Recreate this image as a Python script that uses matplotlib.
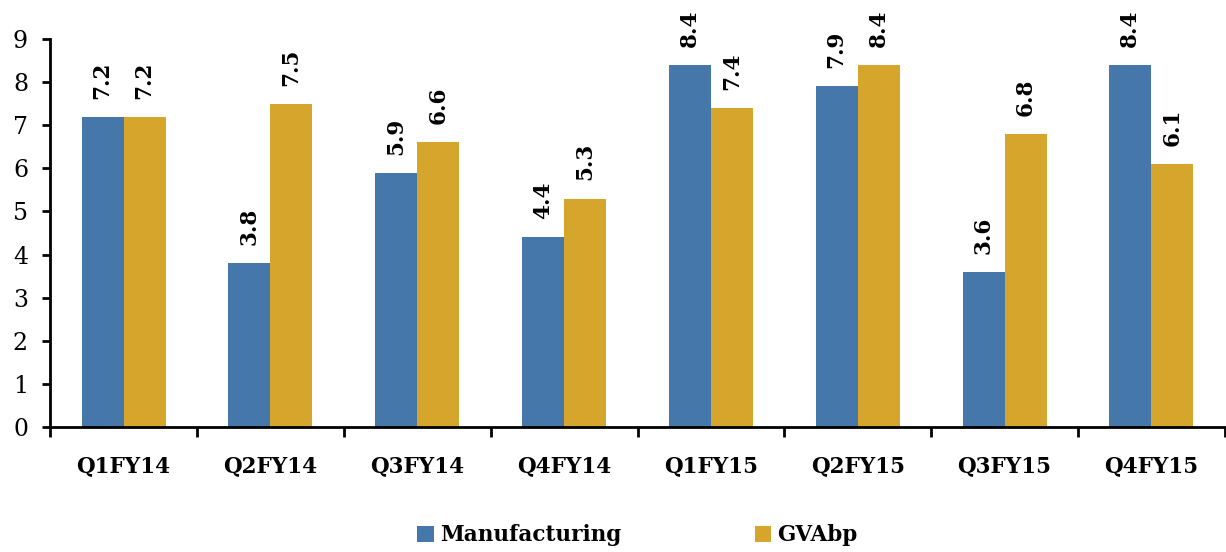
import numpy as np
import matplotlib.pyplot as plt

# Data
quarters = ['Q1FY14', 'Q2FY14', 'Q3FY14', 'Q4FY14',
            'Q1FY15', 'Q2FY15', 'Q3FY15', 'Q4FY15']
manufacturing = [7.2, 3.8, 5.9, 4.4, 8.4, 7.9, 3.6, 8.4]
gvabp = [7.2, 7.5, 6.6, 5.3, 7.4, 8.4, 6.8, 6.1]

BLUE = '#4577AB'
GOLD = '#D5A62B'
FONT = 'DejaVu Serif'

plt.rcParams['font.family'] = FONT

fig = plt.figure(figsize=(12.26, 5.52), dpi=100)
ax = fig.add_axes([0.041, 0.2264, 0.958, 0.7030])

x = np.arange(len(quarters))
w = 0.286
b1 = ax.bar(x - w / 2, manufacturing, w, color=BLUE, label='Manufacturing')
b2 = ax.bar(x + w / 2, gvabp, w, color=GOLD, label='GVAbp')

# rotated value labels above each bar
for bars, vals in [(b1, manufacturing), (b2, gvabp)]:
    for rect, v in zip(bars, vals):
        ax.annotate(f'{v:.1f}', (rect.get_x() + rect.get_width() / 2, v),
                    xytext=(0, 13), textcoords='offset points',
                    ha='center', va='bottom', rotation=90,
                    fontsize=15.5, fontweight='bold')

ax.set_xlim(-0.5, len(quarters) - 0.5)
ax.set_ylim(0, 9)
ax.set_yticks(range(0, 10))

# category labels centred, tick marks on the boundaries
ax.set_xticks(x)
ax.set_xticklabels(quarters, fontsize=15.5, fontweight='bold')
ax.tick_params(axis='x', which='major', length=0, pad=20)
ax.set_xticks(np.arange(-0.5, len(quarters)), minor=True)
ax.tick_params(axis='x', which='minor', length=7, width=2, direction='out')
ax.tick_params(axis='y', length=6, width=2, labelsize=17, pad=10)

for s in ['top', 'right']:
    ax.spines[s].set_visible(False)
for s in ['left', 'bottom']:
    ax.spines[s].set_linewidth(2)

leg = fig.legend(handles=[b1, b2], loc='center', bbox_to_anchor=(0.52, 0.03),
                 ncol=2, frameon=False, handlelength=0.75, handleheight=0.75,
                 handletextpad=0.3, columnspacing=6.2,
                 prop={'family': FONT, 'weight': 'bold', 'size': 15.5})

fig.savefig('out.png', dpi=100)
